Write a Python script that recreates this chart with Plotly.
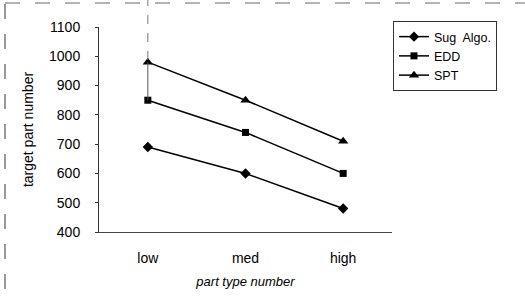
import plotly.graph_objects as go

categories = ["low", "med", "high"]
sug_algo = [690, 600, 480]
edd = [850, 740, 600]
spt = [980, 850, 710]

W, H = 525, 300
L, R, T, B = 99, 133, 27, 68
pw, ph = W - L - R, H - T - B

def px(x):
    return (x - L) / pw

def py(y):
    return (H - B - y) / ph

fig = go.Figure()
series = [("Sug  Algo.", sug_algo, "diamond", 8), ("EDD", edd, "square", 7), ("SPT", spt, "triangle-up", 9)]
for name, vals, sym, sz in series:
    fig.add_trace(go.Scatter(
        x=categories, y=vals, name=name, mode="lines+markers",
        line=dict(color="black", width=1.5),
        marker=dict(symbol=sym, size=sz, color="black"),
    ))

shapes = [
    # scanned page frame
    dict(type="line", xref="paper", yref="paper", x0=px(5), x1=px(5), y0=py(4), y1=py(300),
         line=dict(color="#555", width=1.2, dash="longdash")),
    dict(type="line", xref="paper", yref="paper", x0=px(5), x1=px(525), y0=py(3), y1=py(3),
         line=dict(color="#666", width=1.2, dash="longdash")),
    # vertical scan artifact above "low"
    dict(type="line", xref="x", yref="paper", x0="low", x1="low", y0=py(60), y1=py(0),
         line=dict(color="#777", width=1, dash="dash")),
    dict(type="line", xref="x", yref="y", x0="low", x1="low", y0=spt[0], y1=edd[0],
         line=dict(color="#555", width=1)),
]

fig.update_layout(
    width=W, height=H,
    margin=dict(l=L, r=R, t=T, b=B, autoexpand=False),
    paper_bgcolor="white", plot_bgcolor="white",
    font=dict(family="Liberation Sans, Arial, sans-serif", size=14, color="black"),
    showlegend=True,
    legend=dict(x=px(393), y=py(21), xanchor="left", yanchor="top",
                bordercolor="#333", borderwidth=1, bgcolor="white",
                font=dict(size=12.5), itemwidth=30, tracegroupgap=0),
    shapes=shapes,
    xaxis=dict(
        range=[-0.5, 2.5], showgrid=False, zeroline=False,
        showline=True, linecolor="#444", linewidth=1,
        ticks="", ticklabelstandoff=13,
        title=dict(text="<i>part type number</i>", standoff=12, font=dict(size=13)),
    ),
    yaxis=dict(
        range=[400, 1100], dtick=100, showgrid=False, zeroline=False,
        showline=True, linecolor="#333", linewidth=1,
        ticks="outside", ticklen=3, tickcolor="#333", ticklabelstandoff=12,
        title=dict(text="target part number", standoff=12, font=dict(size=14)),
    ),
)

fig.write_html("out.html", config={"displayModeBar": False},
               post_script="document.body.style.margin='0';")
